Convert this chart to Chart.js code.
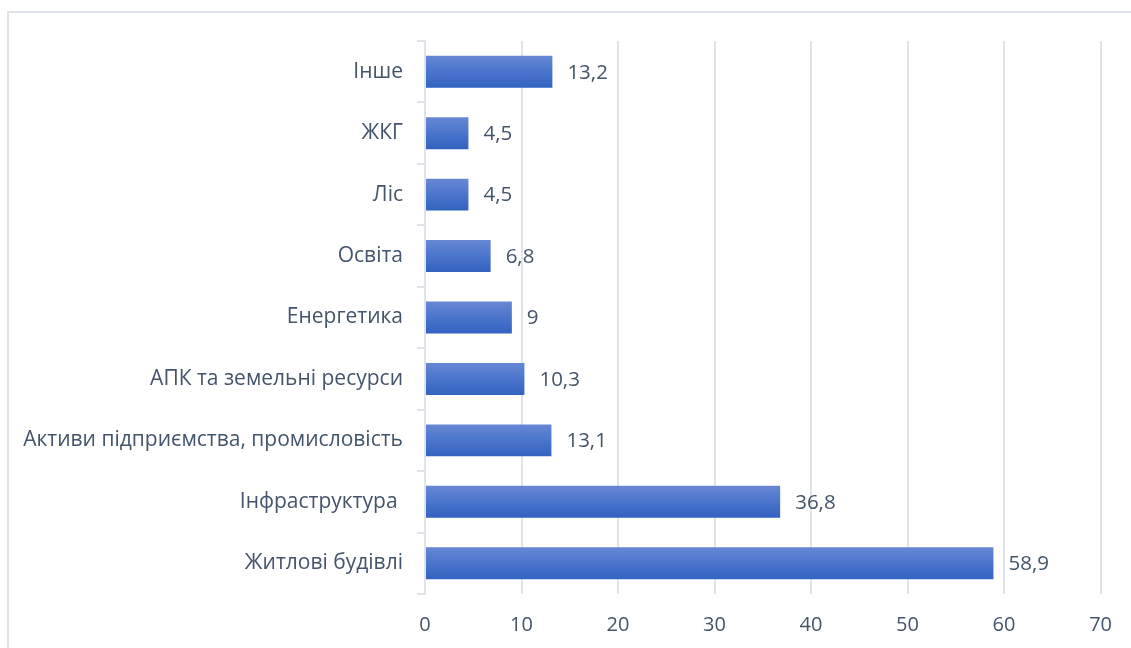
<!DOCTYPE html>
<html>
<head>
<meta charset="utf-8">
<script src="https://cdn.jsdelivr.net/npm/chart.js@4"></script>
<style>
  body { margin: 0; background: #fff; }
  #frame {
    position: absolute; left: 7px; top: 11px; width: 1200px; height: 700px;
    border-left: 2px solid #dfe3ea; border-top: 2px solid #dfe3ea;
  }
  #wrap { position: absolute; left: 0; top: 0; width: 1131px; height: 648px; }
</style>
</head>
<body>
<div id="frame"></div>
<div id="wrap"><canvas id="chart"></canvas></div>
<script>
const categories = [
    'Інше',
    'ЖКГ',
    'Ліс',
    'Освіта',
    'Енергетика',
    'АПК та земельні ресурси',
    'Активи підприємства, промисловість',
    'Інфраструктура ',
    'Житлові будівлі'
];
const values = [13.2, 4.5, 4.5, 6.8, 9, 10.3, 13.1, 36.8, 58.9];
const xTicks = [0, 10, 20, 30, 40, 50, 60, 70];

const textColor = '#44546a';
const gridColor = '#dfe3ea';
const fontFamily = '"Open Sans", "Liberation Sans", sans-serif';

// bar gradient, lighter on top, darker at the bottom
function barGradient(ctx) {
    const chart = ctx.chart;
    const y = chart.scales.y;
    if (!y || ctx.dataIndex === undefined) return '#4472c4';
    const cy = y.getPixelForValue(ctx.dataIndex);
    if (!isFinite(cy)) return '#4472c4';
    const half = 16;
    const g = chart.ctx.createLinearGradient(0, cy - half, 0, cy + half);
    g.addColorStop(0, '#6787d4');
    g.addColorStop(0.5, '#4b75cc');
    g.addColorStop(1, '#3262c0');
    return g;
}

// value labels at the end of each bar
const valueLabels = {
    id: 'valueLabels',
    afterDatasetsDraw(chart) {
        const ctx = chart.ctx;
        const meta = chart.getDatasetMeta(0);
        ctx.save();
        ctx.font = '20.5px ' + fontFamily;
        ctx.fillStyle = textColor;
        ctx.textAlign = 'left';
        ctx.textBaseline = 'middle';
        meta.data.forEach((bar, i) => {
            ctx.fillText(String(values[i]).replace('.', ','), bar.x + 15, bar.y + 1);
        });
        ctx.restore();
    }
};

const ctx = document.getElementById('chart').getContext('2d');
new Chart(ctx, {
    type: 'bar',
    data: {
        labels: categories,
        datasets: [{
            data: values,
            backgroundColor: barGradient,
            borderWidth: 0,
            barPercentage: 0.52,
            categoryPercentage: 1
        }]
    },
    options: {
        indexAxis: 'y',
        responsive: true,
        maintainAspectRatio: false,
        animation: false,
        layout: { padding: { top: 41, right: 30, left: 0, bottom: 0 } },
        plugins: {
            legend: { display: false },
            tooltip: { enabled: false }
        },
        scales: {
            x: {
                min: 0,
                max: 70,
                afterBuildTicks: (scale) => { scale.ticks = xTicks.map(v => ({ value: v })); },
                afterFit: (scale) => { scale.height = 54; },
                grid: { color: gridColor, lineWidth: 2, drawTicks: false },
                border: { display: false },
                ticks: {
                    color: textColor,
                    padding: 19,
                    font: { family: fontFamily, size: 20 }
                }
            },
            y: {
                afterFit: (scale) => { scale.width = 425; },
                grid: { drawOnChartArea: false, color: gridColor, lineWidth: 2, tickLength: 8, offset: true },
                border: { display: true, color: gridColor, width: 2 },
                ticks: {
                    color: textColor,
                    padding: 14,
                    font: { family: fontFamily, size: 21 }
                }
            }
        }
    },
    plugins: [valueLabels]
});
</script>
</body>
</html>
